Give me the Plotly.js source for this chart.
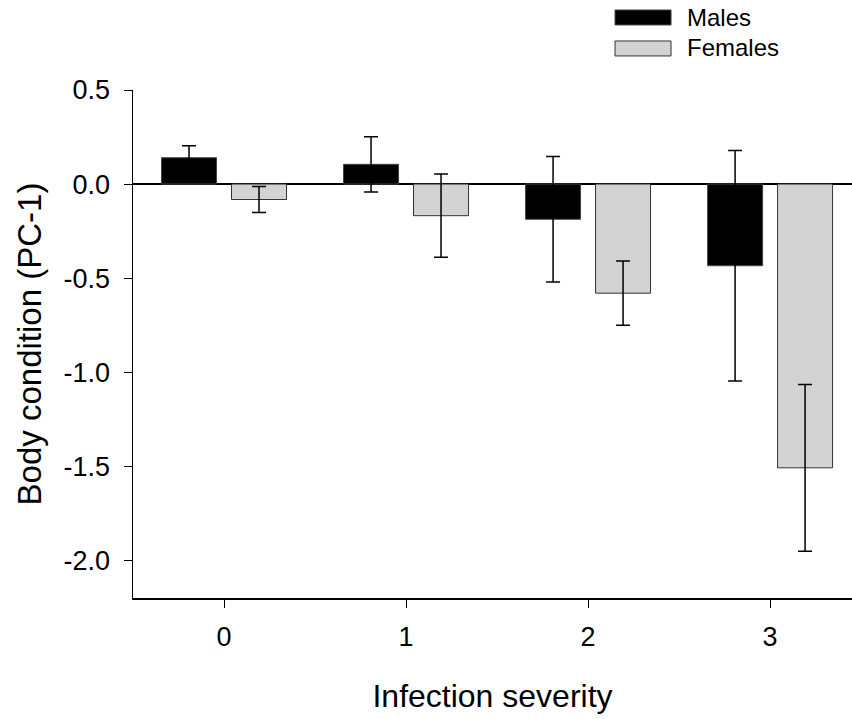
<!DOCTYPE html>
<html>
<head>
<meta charset="utf-8">
<script src="https://cdn.plot.ly/plotly-3.0.1.min.js"></script>
<style>html,body{margin:0;padding:0;background:#fff;}#chart{width:852px;height:719px;}</style>
</head>
<body>
<div id="chart"></div>
<script>
const categories = [0, 1, 2, 3];
const tickLabels = ["0", "1", "2", "3"];
const malesMean = [0.14, 0.105, -0.187, -0.434];
const malesErr = [0.064, 0.147, 0.333, 0.613];
const femalesMean = [-0.082, -0.168, -0.58, -1.508];
const femalesErr = [0.069, 0.221, 0.171, 0.443];
const seriesNames = ["Males", "Females"];

const FONT = "Liberation Sans, Arial, sans-serif";

const errStyle = (arr) => ({type: "data", array: arr, visible: true, color: "#000", thickness: 1.5, width: 7});

const traces = [
  {type: "bar", name: seriesNames[0], x: categories, y: malesMean,
   marker: {color: "#000000", line: {color: "#444", width: 1}},
   error_y: errStyle(malesErr), showlegend: false, hoverinfo: "y"},
  {type: "bar", name: seriesNames[1], x: categories, y: femalesMean,
   marker: {color: "#d3d3d3", line: {color: "#333", width: 1}},
   error_y: errStyle(femalesErr), showlegend: false, hoverinfo: "y"}
];

const layout = {
  width: 852, height: 719,
  margin: {l: 133, r: 0, t: 90, b: 121},
  paper_bgcolor: "#fff", plot_bgcolor: "#fff",
  barmode: "group", bargap: 0.231, bargroupgap: 0.214,
  font: {family: FONT, color: "#000"},
  xaxis: {
    range: [-0.5, 3.45], tickvals: categories, ticktext: tickLabels,
    showgrid: false, zeroline: false, showline: true, linecolor: "#000", linewidth: 1.5,
    ticks: "outside", ticklen: 8, tickwidth: 1, tickcolor: "#000",
    tickfont: {size: 27, family: FONT}, ticklabelstandoff: 6,
    title: {text: "Infection severity", font: {size: 32, family: FONT}, standoff: 33},
    automargin: false
  },
  yaxis: {
    range: [-2.2, 0.5], tickvals: [0.5, 0, -0.5, -1, -1.5, -2],
    ticktext: ["0.5", "0.0", "-0.5", "-1.0", "-1.5", "-2.0"],
    showgrid: false, zeroline: true, zerolinecolor: "#000", zerolinewidth: 1.2,
    showline: true, linecolor: "#000", linewidth: 1.5,
    ticks: "outside", ticklen: 8, tickwidth: 1, tickcolor: "#000",
    tickfont: {size: 27, family: FONT}, ticklabelstandoff: 8,
    title: {text: "Body condition (PC-1)", font: {size: 33, family: FONT}, standoff: 12},
    automargin: false
  },
  shapes: [
    {type: "rect", xref: "paper", yref: "paper", x0: 0.6704, x1: 0.7483, y0: 1.128, y1: 1.1575,
     fillcolor: "#000", line: {color: "#444", width: 1}},
    {type: "rect", xref: "paper", yref: "paper", x0: 0.6704, x1: 0.7483, y0: 1.067, y1: 1.0965,
     fillcolor: "#d3d3d3", line: {color: "#333", width: 1}}
  ],
  annotations: [
    {xref: "paper", yref: "paper", x: 0.7677, y: 1.1437, xanchor: "left", yanchor: "middle",
     text: seriesNames[0], showarrow: false, font: {size: 24, family: FONT}},
    {xref: "paper", yref: "paper", x: 0.7677, y: 1.0827, xanchor: "left", yanchor: "middle",
     text: seriesNames[1], showarrow: false, font: {size: 24, family: FONT}}
  ]
};

Plotly.newPlot("chart", traces, layout, {displayModeBar: false, staticPlot: true});
</script>
</body>
</html>
